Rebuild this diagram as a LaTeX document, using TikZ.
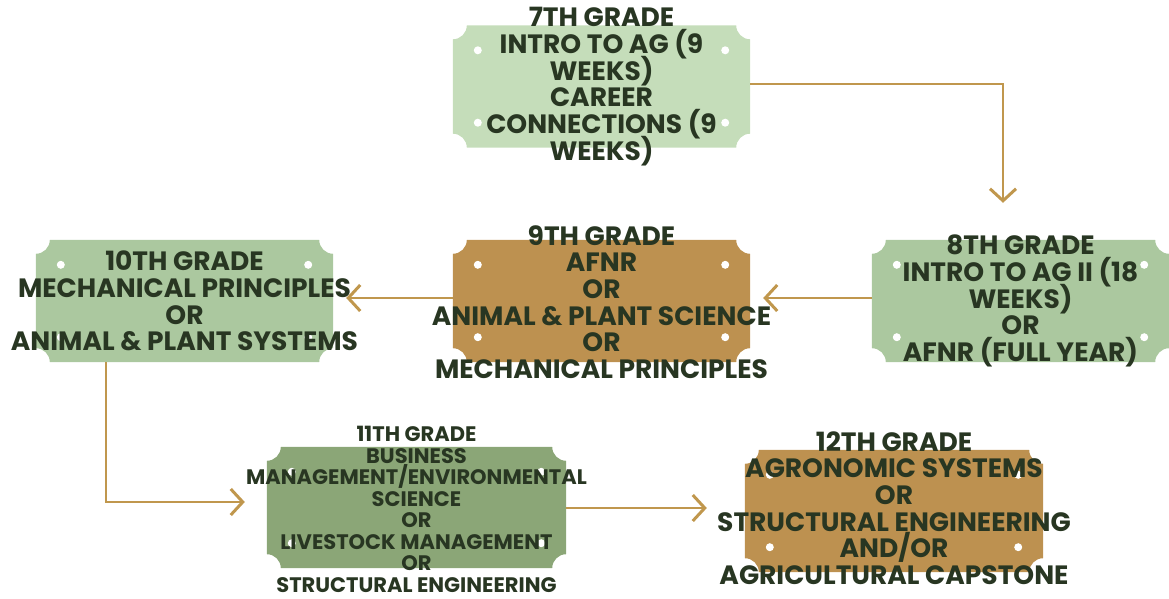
\documentclass[tikz,border=0pt]{standalone}
\usepackage{fontspec}
\setmainfont{Poppins}
\usetikzlibrary{arrows.meta}
\definecolor{gA}{HTML}{C5DDBA}
\definecolor{gB}{HTML}{ABC89F}
\definecolor{gC}{HTML}{8BA677}
\definecolor{brn}{HTML}{BD9150}
\definecolor{arr}{HTML}{C0974D}
\definecolor{txt}{HTML}{283622}
\newcommand\tightls{\lineskiplimit-100pt\relax\lineskip0pt\relax}
\newcommand\plaque[2]{%
  \fill[#2] ([xshift=14pt]#1.north west) -- ([xshift=-14pt]#1.north east)
    arc[start angle=180,end angle=270,radius=14pt] -- ([yshift=14pt]#1.south east)
    arc[start angle=90,end angle=180,radius=14pt] -- ([xshift=14pt]#1.south west)
    arc[start angle=0,end angle=90,radius=14pt] -- ([yshift=-14pt]#1.north west)
    arc[start angle=270,end angle=360,radius=14pt] -- cycle;
  \foreach \p/\s in {north west/{(25pt,-25pt)},north east/{(-25pt,-25pt)},south west/{(25pt,25pt)},south east/{(-25pt,25pt)}}
    \fill[white] ([shift=\s]#1.\p) circle[radius=4pt];
}
\begin{document}
\begin{tikzpicture}[x=1pt,y=1pt,
  boxn/.style={draw=none,inner sep=0,minimum width=297pt,minimum height=122pt},
  lbl/.style={inner sep=0,align=center,text=txt,font=\bfseries\fontsize{26.5}{26.7}\selectfont\tightls},
  lbls/.style={inner sep=0,align=center,text=txt,font=\bfseries\fontsize{21}{21.5}\selectfont\tightls},
  conn/.style={draw=arr,line width=2.5pt,-{Straight Barb[length=12pt,width=26pt,line width=3pt]}}]
\useasboundingbox (0,0) rectangle (1169,-599);
\node[boxn] (b7) at (601.5,-86.5) {};
\node[boxn] (b8) at (1020.5,-301) {};
\node[boxn] (b9) at (601.5,-301) {};
\node[boxn] (b10) at (184.5,-301) {};
\node[boxn,minimum width=299pt,minimum height=121pt] (b11) at (416.5,-507.5) {};
\node[boxn,minimum width=298pt] (b12) at (894,-511) {};
\plaque{b7}{gA}
\plaque{b8}{gB}
\plaque{b9}{brn}
\plaque{b10}{gB}
\plaque{b11}{gC}
\plaque{b12}{brn}
\node[lbl] (t7) at (b7.center) {7TH GRADE\\INTRO TO AG (9\\WEEKS)\\CAREER\\CONNECTIONS (9\\WEEKS)};
\node[lbl] (t8) at (b8.center) {8TH GRADE\\INTRO TO AG II (18\\WEEKS)\\OR\\AFNR (FULL YEAR)};
\node[lbl] (t9) at ([yshift=-1pt]b9.center) {9TH GRADE\\AFNR\\OR\\ANIMAL \& PLANT SCIENCE\\OR\\MECHANICAL PRINCIPLES};
\node[lbl] (t10) at (b10.center) {10TH GRADE\\MECHANICAL PRINCIPLES\\OR\\ANIMAL \& PLANT SYSTEMS};
\node[lbls] (t11) at ([yshift=-2pt]b11.center) {11TH GRADE\\BUSINESS\\MANAGEMENT/ENVIRONMENTAL\\SCIENCE\\OR\\LIVESTOCK MANAGEMENT\\OR\\STRUCTURAL ENGINEERING};
\node[lbl] (t12) at ([yshift=3pt]b12.center) {12TH GRADE\\AGRONOMIC SYSTEMS\\OR\\STRUCTURAL ENGINEERING\\AND/OR\\AGRICULTURAL CAPSTONE};
\draw[conn,shorten >=37pt] ([yshift=2.5pt]b7.east) -| ([xshift=-17.5pt]b8.north);
\draw[conn,shorten >=13pt] ([yshift=3pt]b8.west) -- ([yshift=3pt]b9.east);
\draw[conn,shorten >=13pt] ([yshift=3pt]b9.west) -- ([yshift=3pt]b10.east);
\draw[conn,shorten >=22pt] ([xshift=-78.5pt]b10.south) |- ([yshift=5.5pt]b11.west);
\draw[conn,shorten >=38pt] ([yshift=-0.5pt]b11.east) -- ([yshift=3pt]b12.west);
\end{tikzpicture}
\end{document}
